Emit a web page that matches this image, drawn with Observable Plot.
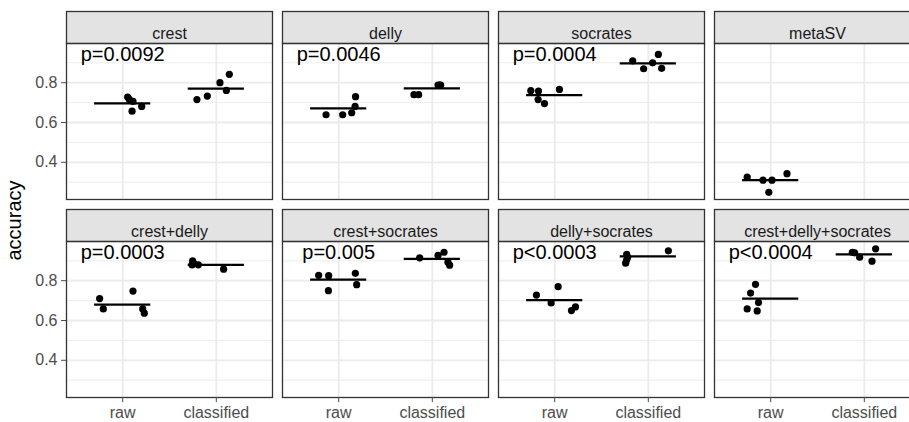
<!DOCTYPE html>
<html><head><meta charset="utf-8">
<script src="https://cdn.jsdelivr.net/npm/d3@7"></script>
<script src="https://cdn.jsdelivr.net/npm/@observablehq/plot@0.6"></script>
<style>html,body{margin:0;padding:0;overflow:hidden;background:#fff}</style>
</head><body><div id="chart"></div>
<script>
const panels = ["crest","delly","socrates","metaSV","crest+delly","crest+socrates","delly+socrates","crest+delly+socrates"];
const pLabels = ["p=0.0092","p=0.0046","p=0.0004","","p=0.0003","p=0.005","p<0.0003","p<0.0004"];
const groups = ["raw","classified"];
const yTicks = [0.4, 0.6, 0.8];
const yMinorTicks = [0.3, 0.5, 0.7, 0.9];
const pLabelAccuracy = 0.94;

const rawAccuracy = [
  [0.728,0.716,0.706,0.657,0.681],
  [0.639,0.639,0.649,0.681,0.730],
  [0.760,0.758,0.715,0.695,0.766],
  [0.325,0.310,0.310,0.343,0.249],
  [0.710,0.658,0.748,0.658,0.637],
  [0.827,0.825,0.750,0.837,0.780],
  [0.728,0.688,0.770,0.650,0.668],
  [0.782,0.738,0.690,0.658,0.648]
];
const rawJitter = [
  [0.053,0.071,0.110,0.100,0.203],
  [-0.135,0.043,0.139,0.175,0.180],
  [-0.255,-0.173,-0.177,-0.109,0.051],
  [-0.251,-0.082,0.014,0.174,-0.020],
  [-0.246,-0.207,0.110,0.214,0.231],
  [-0.214,-0.107,-0.110,0.178,0.192],
  [-0.195,-0.038,0.037,0.179,0.222],
  [-0.162,-0.215,-0.130,-0.251,-0.144]
];
const classifiedAccuracy = [
  [0.715,0.733,0.800,0.761,0.842],
  [0.740,0.740,0.788,0.788,0.788],
  [0.910,0.870,0.900,0.942,0.872],
  [],
  [0.880,0.900,0.885,0.880,0.858],
  [0.915,0.927,0.943,0.878,0.893],
  [0.932,0.918,0.888,0.905,0.950],
  [0.943,0.940,0.918,0.898,0.960]
];
const classifiedJitter = [
  [-0.207,-0.096,0.039,0.107,0.139],
  [-0.196,-0.146,0.061,0.078,0.089],
  [-0.167,-0.050,0.046,0.107,0.142],
  [],
  [-0.260,-0.253,-0.235,-0.192,0.078],
  [-0.135,0.061,0.125,0.185,0.167],
  [-0.231,-0.221,-0.242,-0.231,0.214],
  [-0.128,-0.103,-0.050,0.082,0.121]
];
const rawMean = [0.696,0.671,0.738,0.310,0.680,0.805,0.702,0.710];
const classifiedMean = [0.770,0.771,0.897,null,0.880,0.910,0.922,0.932];

const crossbarHalf = 0.3;
const pts = [], means = [], strips = [];
panels.forEach((name, i) => {
  const col = i % 4, row = Math.floor(i / 4);
  rawAccuracy[i].forEach((v, j) => pts.push({col, row, x: 1 + rawJitter[i][j], y: v}));
  classifiedAccuracy[i].forEach((v, j) => pts.push({col, row, x: 2 + classifiedJitter[i][j], y: v}));
  [rawMean[i], classifiedMean[i]].forEach((m, g) => { if (m != null) means.push({col, row, g: g + 1, y: m}); });
  strips.push({col, row, name, p: pLabels[i]});
});

const font = "'Liberation Sans', Arial, Helvetica, sans-serif";
const chart = Plot.plot({
  width: 925, height: 422,
  marginLeft: 65.3, marginRight: 5.4, marginTop: 43, marginBottom: 24.5,
  style: {fontFamily: font, background: "white", maxWidth: "none"},
  fx: {axis: null, paddingInner: 0.0486, paddingOuter: 0},
  fy: {axis: null, paddingInner: 0.214, paddingOuter: 0},
  x: {domain: [0.4, 2.6]},
  y: {domain: [0.213, 0.997]},
  marks: [
    Plot.gridY({ticks: yMinorTicks, stroke: "#ebebeb", strokeOpacity: 1, strokeWidth: 0.9}),
    Plot.gridY({ticks: yTicks, stroke: "#ebebeb", strokeOpacity: 1, strokeWidth: 1.8}),
    Plot.gridX({ticks: [1, 2], stroke: "#ebebeb", strokeOpacity: 1, strokeWidth: 1.8}),
    Plot.frame({fill: "#e3e3e3", stroke: "#333333", strokeWidth: 1.3, insetTop: -32, insetBottom: 156}),
    Plot.frame({stroke: "#333333", strokeWidth: 1.3}),
    Plot.text(strips, {fx: "col", fy: "row", text: "name", frameAnchor: "top", dy: -16, fontSize: 16, fill: "#1a1a1a"}),
    Plot.text(strips, {fx: "col", fy: "row", x: () => 1, y: () => pLabelAccuracy, text: "p", fontSize: 20, fill: "black"}),
    Plot.ruleY(means, {fx: "col", fy: "row", y: "y", x1: d => d.g - crossbarHalf, x2: d => d.g + crossbarHalf, stroke: "black", strokeWidth: 2.2}),
    Plot.dot(pts, {fx: "col", fy: "row", x: "x", y: "y", r: 3.6, fill: "black"}),
    Plot.axisY({ticks: yTicks, tickFormat: d3.format(".1f"), tickSize: 5, tickPadding: 4, fontSize: 16, label: null, color: "#4d4d4d"}),
    Plot.axisX({ticks: [1, 2], tickFormat: d => groups[d - 1], tickSize: 5, tickPadding: 4, fontSize: 16, label: null, color: "#4d4d4d"})
  ]
});
document.getElementById("chart").appendChild(chart);
d3.select(chart).append("text")
  .attr("transform", "translate(21,220.5) rotate(-90)")
  .attr("text-anchor", "middle")
  .attr("font-size", 20)
  .attr("font-family", font)
  .attr("fill", "black")
  .text("accuracy");
</script></body></html>
